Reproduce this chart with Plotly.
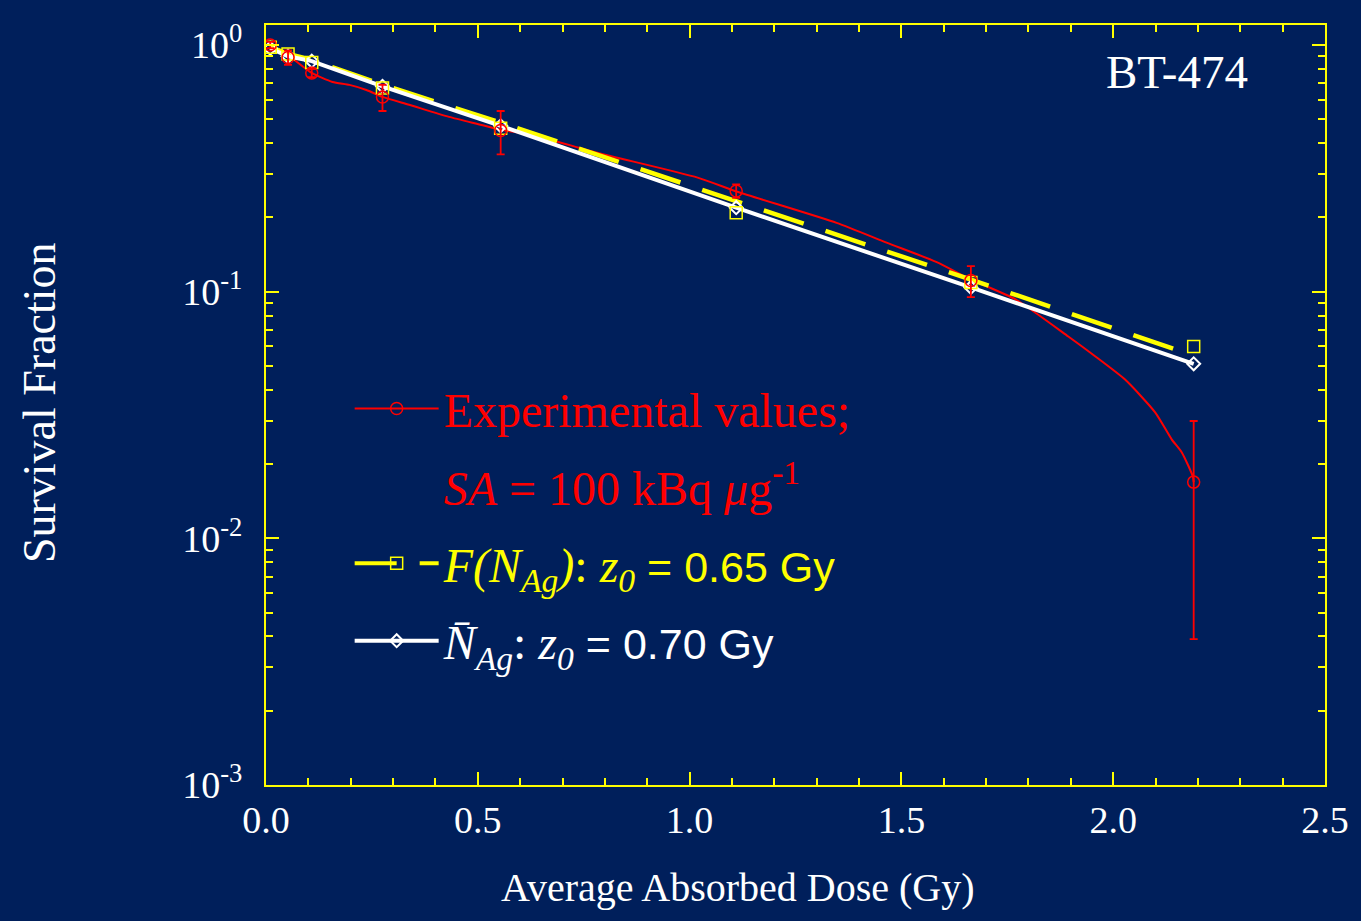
import plotly.graph_objects as go

BG = "#001F5B"
RED = "#FF0000"
YEL = "#FFFF00"
WHITE = "#FFFFFF"

# Measured survival (experimental values, SA = 100 kBq/ug)
dose = [0.01, 0.052, 0.108, 0.275, 0.554, 1.11, 1.664, 2.19]
exp_sf = [1.0, 0.89, 0.77, 0.615, 0.45, 0.256, 0.111, 0.0169]
exp_err = [0.03, 0.06, 0.03, 0.075, 0.09, 0.016, 0.016, 0.013]

exp_curve_dose = [0.01, 0.052, 0.108, 0.157, 0.197, 0.237, 0.275, 0.338, 0.432, 0.509,
                  0.554, 0.627, 0.784, 1.019, 1.113, 1.347, 1.465, 1.582, 1.664, 1.770,
                  1.894, 1.958, 2.028, 2.099, 2.138, 2.162, 2.188, 2.19]
exp_curve_sf = [1.0, 0.91, 0.77, 0.708, 0.689, 0.657, 0.616, 0.572, 0.511, 0.474,
                0.453, 0.432, 0.365, 0.290, 0.254, 0.190, 0.158, 0.132, 0.112, 0.0929,
                0.0658, 0.0546, 0.044, 0.0324, 0.0252, 0.0223, 0.0178, 0.0169]

# F(N_Ag) model, z0 = 0.65 Gy
fn_line_sf = [0.98, 0.92, 0.87, 0.69, 0.485, 0.232, 0.112, 0.055]
fn_marker_sf = [0.98, 0.92, 0.85, 0.67, 0.46, 0.209, 0.109, 0.060]

# N-bar_Ag model, z0 = 0.70 Gy
nbar_sf = [0.97, 0.90, 0.86, 0.68, 0.47, 0.219, 0.104, 0.051]

x_ticks = [0.0, 0.5, 1.0, 1.5, 2.0, 2.5]
y_ticks = [0.001, 0.01, 0.1, 1]
y_ticktext = ["10<sup>-3</sup>", "10<sup>-2</sup>", "10<sup>-1</sup>", "10<sup>0</sup>"]
y_minor = [m * 10.0 ** e for e in (-3, -2, -1) for m in range(2, 10)]

SERIF = "Liberation Serif"
SANS = "Liberation Sans"

fig = go.Figure()

# data traces
fig.add_trace(go.Scatter(x=exp_curve_dose, y=exp_curve_sf, mode="lines",
                         line=dict(color=RED, width=2, shape="spline", smoothing=0.6),
                         showlegend=False, hoverinfo="skip"))
fig.add_trace(go.Scatter(x=dose, y=fn_line_sf, mode="lines",
                         line=dict(color=YEL, width=4.5, dash="42px,23px"), showlegend=False))
fig.add_trace(go.Scatter(x=dose, y=nbar_sf, mode="lines+markers",
                         line=dict(color=WHITE, width=4),
                         marker=dict(symbol="diamond-open", size=10, color=WHITE, line=dict(width=2)),
                         showlegend=False))
fig.add_trace(go.Scatter(x=dose, y=fn_marker_sf, mode="markers",
                         marker=dict(symbol="square-open", size=12, color=YEL, line=dict(width=1.5)),
                         showlegend=False))
fig.add_trace(go.Scatter(x=dose, y=exp_sf, mode="markers",
                         marker=dict(symbol="circle-open", size=12, color=RED, line=dict(width=1.5)),
                         error_y=dict(type="data", array=exp_err, color=RED, thickness=1.8, width=4),
                         showlegend=False))

# legend entries
fig.add_trace(go.Scatter(x=[None], y=[None], mode="lines+markers",
                         line=dict(color=RED, width=2),
                         marker=dict(symbol="circle-open", size=12, color=RED, line=dict(width=1.5)),
                         name="<span style='color:#FF0000'>Experimental values;</span>",
                         legendgroup="a"))
fig.add_trace(go.Scatter(x=[None], y=[None], mode="lines",
                         line=dict(color=BG, width=0),
                         name="<span style='color:#FF0000'><i>SA</i> = 100 kBq <i>μ</i>g<sup>-1</sup></span>",
                         legendgroup="b"))
fig.add_trace(go.Scatter(x=[None], y=[None], mode="lines+markers",
                         line=dict(color=YEL, width=4, dash="42px,23px"),
                         marker=dict(symbol="square-open", size=12, color=YEL, line=dict(width=1.5)),
                         name="<span style='color:#FFFF00'><i>F(N<sub>Ag</sub>)</i>: <i>z<sub>0</sub></i> "
                              "<span style='font-family:Liberation Sans;font-size:43px'>= 0.65 Gy</span></span>",
                         legendgroup="c"))
fig.add_trace(go.Scatter(x=[None], y=[None], mode="lines+markers",
                         line=dict(color=WHITE, width=4),
                         marker=dict(symbol="diamond-open", size=10, color=WHITE, line=dict(width=2)),
                         name="<span style='color:#FFFFFF'><i>N̄</i><sub><i>Ag</i></sub>: <i>z<sub>0</sub></i> "
                              "<span style='font-family:Liberation Sans;font-size:43px'>= 0.70 Gy</span></span>",
                         legendgroup="d"))

axis_common = dict(
    showline=True, linecolor=YEL, linewidth=2, mirror="ticks",
    ticks="inside", ticklen=13, tickwidth=2, tickcolor=YEL,
    showgrid=False, zeroline=False,
    tickfont=dict(family=SERIF, size=38, color=WHITE),
)

fig.update_layout(
    width=1361, height=921,
    paper_bgcolor=BG, plot_bgcolor=BG,
    margin=dict(l=266, r=29, t=25, b=136),
    font=dict(family=SERIF, color=WHITE),
    xaxis=dict(range=[0, 2.5], tickvals=x_ticks, tickformat=".1f", ticklabelstandoff=0,
               minor=dict(dtick=0.1, ticks="inside", ticklen=7, tickwidth=2, tickcolor=YEL, showgrid=False),
               **axis_common),
    yaxis=dict(type="log", range=[-3, 0.081], tickvals=y_ticks, ticktext=y_ticktext, ticklabelstandoff=14,
               minor=dict(tickmode="array", tickvals=y_minor, ticks="inside", ticklen=7, tickwidth=2,
                          tickcolor=YEL, showgrid=False),
               **axis_common),
    showlegend=True,
    legend=dict(x=0.079, y=0.545, xanchor="left", yanchor="top",
                bgcolor="rgba(0,0,0,0)", borderwidth=0,
                font=dict(family=SERIF, size=48, color=WHITE),
                itemwidth=84, tracegroupgap=12, valign="middle"),
    annotations=[
        dict(text="BT-474", x=0.86, y=0.938, xref="paper", yref="paper", showarrow=False,
             font=dict(family=SERIF, size=47, color=WHITE), xanchor="center", yanchor="middle"),
        dict(text="Average Absorbed Dose (Gy)", x=0.446, y=-0.1355, xref="paper", yref="paper",
             showarrow=False, font=dict(family=SERIF, size=40, color=WHITE),
             xanchor="center", yanchor="middle"),
        dict(text="Survival Fraction", x=-0.214, y=0.503, xref="paper", yref="paper",
             showarrow=False, textangle=-90, font=dict(family=SERIF, size=46, color=WHITE),
             xanchor="center", yanchor="middle"),
    ],
)

fig.write_html("out.html", config={"displayModeBar": False},
               post_script="document.body.style.margin='0';document.body.style.background='#001F5B';")
